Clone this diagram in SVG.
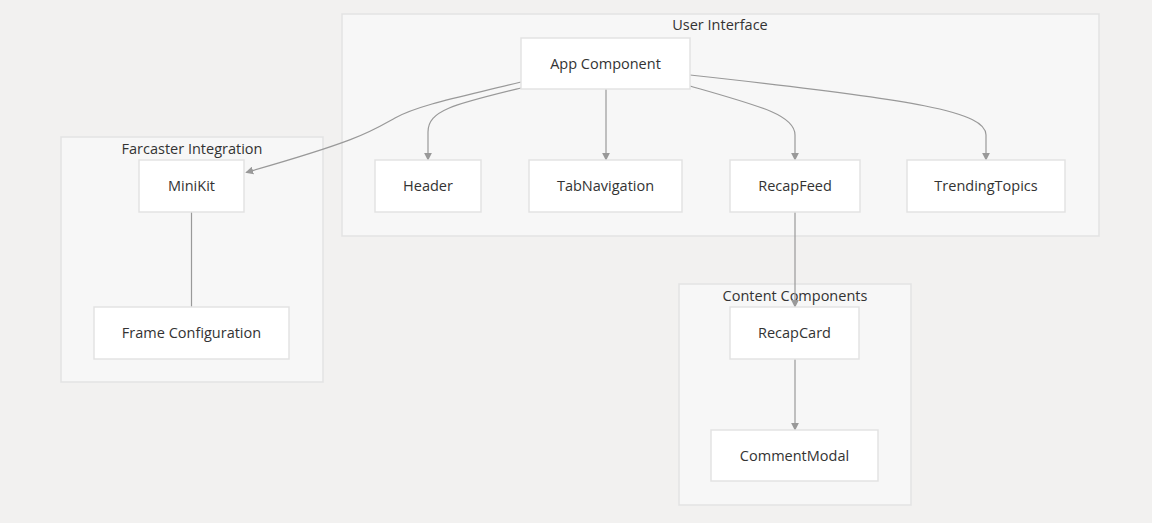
<svg xmlns="http://www.w3.org/2000/svg" width="1152" height="523" viewBox="0 0 1152 523">
<style>
.bg{fill:#f2f1f0}
.cluster{fill:#f7f7f7;stroke:#e3e3e3;stroke-width:1.5}
.node rect{fill:#ffffff;stroke:#e3e3e3;stroke-width:1.5}
text{font-family:"Open Sans","Noto Sans","Liberation Sans",sans-serif;font-size:14.5px;fill:#333;text-anchor:middle;dominant-baseline:central}
.edge{fill:none;stroke:#999;stroke-width:1.2}
</style>
<defs>
<marker id="arr" viewBox="0 0 10 10" refX="9" refY="5" markerWidth="8" markerHeight="8" markerUnits="userSpaceOnUse" orient="auto">
<path d="M0,0 L10,5 L0,10 z" fill="#999"/>
</marker>
</defs>
<rect class="bg" x="0" y="0" width="1152" height="523"/>
<g id="clusters">
<g id="cluster-ui"><rect class="cluster" x="342" y="14" width="757" height="222"/><text x="720" y="24.5">User Interface</text></g>
<g id="cluster-farcaster"><rect class="cluster" x="61" y="137" width="262" height="245"/><text x="192" y="148.5">Farcaster Integration</text></g>
<g id="cluster-content"><rect class="cluster" x="679" y="284" width="232" height="221"/><text x="795" y="295.5">Content Components</text></g>
</g>
<g id="connectors">
<path class="edge" d="M521,82 C470,95 420,104 395,118 C370,132 360,140 246,172.5" marker-end="url(#arr)"/>
<path class="edge" d="M521,88 C455,104 428,110 428,132 L428,160" marker-end="url(#arr)"/>
<path class="edge" d="M606,89 L606,160" marker-end="url(#arr)"/>
<path class="edge" d="M690,86 C760,106 795,115 795,135 L795,160" marker-end="url(#arr)"/>
<path class="edge" d="M690,75 C920,100 986,112 986,135 L986,160" marker-end="url(#arr)"/>
<path class="edge" d="M795,212 L795,307" marker-end="url(#arr)"/>
<path class="edge" d="M191.5,212 L191.5,307"/>
<path class="edge" d="M795,359 L795,430" marker-end="url(#arr)"/>
</g>
<g id="node-app" class="node"><rect x="521" y="38" width="169" height="51"/><text x="605.5" y="63.5">App Component</text></g>
<g id="node-header" class="node"><rect x="375" y="160" width="106" height="52"/><text x="428" y="185.5">Header</text></g>
<g id="node-tabnav" class="node"><rect x="529" y="160" width="153" height="52"/><text x="605.5" y="185.5">TabNavigation</text></g>
<g id="node-recapfeed" class="node"><rect x="730" y="160" width="130" height="52"/><text x="795" y="185.5">RecapFeed</text></g>
<g id="node-trending" class="node"><rect x="907" y="160" width="158" height="52"/><text x="986" y="185.5">TrendingTopics</text></g>
<g id="node-minikit" class="node"><rect x="139" y="160" width="105" height="52"/><text x="191.5" y="185.5">MiniKit</text></g>
<g id="node-frame" class="node"><rect x="94" y="307" width="195" height="52"/><text x="191.5" y="332.5">Frame Configuration</text></g>
<g id="node-recapcard" class="node"><rect x="730" y="307" width="129" height="52"/><text x="794.5" y="332.5">RecapCard</text></g>
<g id="node-comment" class="node"><rect x="711" y="430" width="167" height="51"/><text x="794.5" y="455.5">CommentModal</text></g>
</svg>
